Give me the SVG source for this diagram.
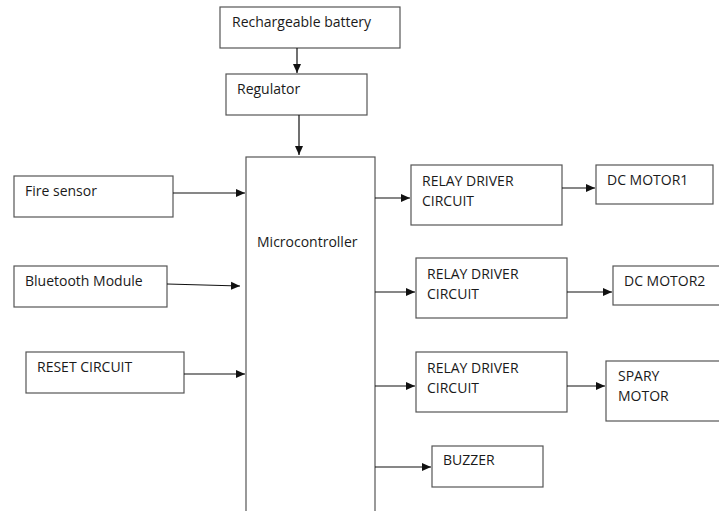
<svg xmlns="http://www.w3.org/2000/svg" width="719" height="511" viewBox="0 0 719 511">
<style>
.box{fill:#fff;stroke:#555;stroke-width:1.2}
.t{font-family:"Open Sans","Noto Sans",sans-serif;font-size:14px;fill:#1a1a1a}
.c{stroke:#111;stroke-width:1.2;fill:none;marker-end:url(#ah)}
</style>
<defs>
<marker id="ah" markerWidth="10" markerHeight="10" refX="9" refY="5" orient="auto" markerUnits="userSpaceOnUse">
<path d="M0,1 L9,5 L0,9 Z" fill="#111"/>
</marker>
</defs>
<rect width="719" height="511" fill="#fff"/>
<g id="battery"><rect class="box" x="220" y="7" width="180" height="41"/><text class="t" x="232" y="27">Rechargeable battery</text></g>
<g id="regulator"><rect class="box" x="226" y="74" width="141" height="41"/><text class="t" x="237" y="94">Regulator</text></g>
<g id="micro"><rect class="box" x="246" y="157" width="129" height="370"/><text class="t" x="257" y="247">Microcontroller</text></g>
<g id="fire"><rect class="box" x="14" y="176" width="159" height="41"/><text class="t" x="25" y="196">Fire sensor</text></g>
<g id="bluetooth"><rect class="box" x="14" y="266" width="153" height="41"/><text class="t" x="25" y="286">Bluetooth Module</text></g>
<g id="reset"><rect class="box" x="26" y="352" width="158" height="41"/><text class="t" x="37" y="372">RESET CIRCUIT</text></g>
<g id="relay1"><rect class="box" x="411" y="165" width="151" height="60"/><text class="t" x="422" y="186">RELAY DRIVER</text><text class="t" x="422" y="206">CIRCUIT</text></g>
<g id="motor1"><rect class="box" x="596" y="165" width="117" height="39"/><text class="t" x="607" y="185">DC MOTOR1</text></g>
<g id="relay2"><rect class="box" x="416" y="258" width="151" height="60"/><text class="t" x="427" y="279">RELAY DRIVER</text><text class="t" x="427" y="299">CIRCUIT</text></g>
<g id="motor2"><rect class="box" x="613" y="266" width="120" height="39"/><text class="t" x="624" y="286">DC MOTOR2</text></g>
<g id="relay3"><rect class="box" x="416" y="352" width="151" height="60"/><text class="t" x="427" y="373">RELAY DRIVER</text><text class="t" x="427" y="393">CIRCUIT</text></g>
<g id="spray"><rect class="box" x="606" y="361" width="120" height="60"/><text class="t" x="618" y="381">SPARY</text><text class="t" x="618" y="401">MOTOR</text></g>
<g id="buzzer"><rect class="box" x="432" y="446" width="111" height="41"/><text class="t" x="443" y="465">BUZZER</text></g>
<g id="connectors">
<path class="c" d="M297,48 V73"/>
<path class="c" d="M299,115 V155"/>
<path class="c" d="M173,193 H245"/>
<path class="c" d="M167,284 L240,286"/>
<path class="c" d="M184,374 H245"/>
<path class="c" d="M375,198 H410"/>
<path class="c" d="M562,188 H595"/>
<path class="c" d="M375,292 H415"/>
<path class="c" d="M567,292 H612"/>
<path class="c" d="M375,386 H415"/>
<path class="c" d="M567,386 H605"/>
<path class="c" d="M375,467 H431"/>
</g>
</svg>
